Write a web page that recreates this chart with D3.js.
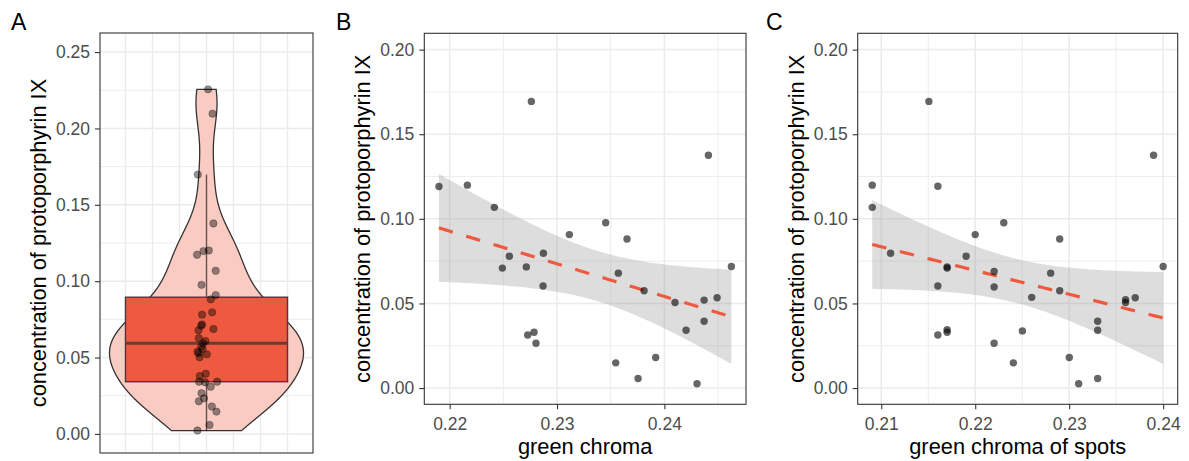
<!DOCTYPE html>
<html>
<head>
<meta charset="utf-8">
<script src="https://cdn.jsdelivr.net/npm/d3@7"></script>
<style>
  body { margin: 0; background: #fff; }
  svg { display: block; }
  text { font-family: "Liberation Sans", Arial, sans-serif; }
</style>
</head>
<body>
<svg id="fig" width="1189" height="461"></svg>
<script>
// Protoporphyrin IX concentration of every sample (panel A) with horizontal jitter offsets
const ppixAll = [0.2256, 0.2097, 0.1698, 0.1378, 0.1173, 0.1197, 0.1201, 0.1068, 0.0976, 0.0909,
  0.0881, 0.0796, 0.0781, 0.0717, 0.0708, 0.0687, 0.0678, 0.0626, 0.0608, 0.0593,
  0.0571, 0.0556, 0.0538, 0.0528, 0.0521, 0.0502, 0.0394, 0.0379, 0.0342, 0.0338,
  0.0342, 0.0309, 0.0266, 0.0233, 0.0214, 0.0179, 0.0146, 0.0059, 0.0022];
const jitterAll = [0.009, 0.034, -0.049, 0.039, -0.053, -0.017, 0.013, 0.052, -0.028, 0.052,
  0.024, 0.032, -0.025, -0.025, -0.030, 0.039, -0.045, -0.043, -0.006, -0.019,
  -0.030, -0.022, -0.051, -0.043, 0.002, -0.039, -0.004, -0.038, -0.042, -0.008,
  0.060, 0.024, -0.028, -0.014, -0.043, 0.030, 0.056, 0.017, -0.051];

// Panel B: green chroma vs protoporphyrin IX
const chromaB = [0.2190, 0.22165, 0.22416, 0.22761, 0.22556, 0.22491, 0.22714, 0.22873, 0.2287, 0.22727,
  0.22786, 0.22804, 0.23115, 0.23453, 0.23652, 0.23571, 0.23811, 0.23547, 0.23755, 0.23919,
  0.24099, 0.24202, 0.2437, 0.2437, 0.24491, 0.2441, 0.24304, 0.24624];
const ppixB = [0.1191, 0.1199, 0.1068, 0.1694, 0.0779, 0.0709, 0.0716, 0.0797, 0.0603, 0.0314,
  0.0330, 0.0265, 0.0907, 0.0977, 0.0881, 0.0679, 0.0575, 0.0149, 0.0057, 0.0181,
  0.0506, 0.0342, 0.0520, 0.0395, 0.0534, 0.1376, 0.0026, 0.0718];

// Panel C: green chroma of spots vs protoporphyrin IX
const chromaC = [0.20904, 0.20904, 0.21099, 0.21507, 0.21602, 0.21602, 0.21602, 0.21701, 0.21701, 0.21701,
  0.21701, 0.21903, 0.2200, 0.22201, 0.22201, 0.22201, 0.22304, 0.22406, 0.22502, 0.22601,
  0.22803, 0.22899, 0.22899, 0.23001, 0.23101, 0.23303, 0.23303, 0.23303, 0.2360, 0.2360,
  0.23703, 0.23898, 0.2400];
const ppixC = [0.1199, 0.1068, 0.0797, 0.1694, 0.1193, 0.0603, 0.0314, 0.0716, 0.0709, 0.0345,
  0.0330, 0.0779, 0.0907, 0.0689, 0.0597, 0.0265, 0.0977, 0.0149, 0.0338, 0.0536,
  0.0679, 0.0881, 0.0575, 0.0181, 0.0026, 0.0395, 0.0342, 0.0057, 0.0522, 0.0506,
  0.0534, 0.1376, 0.0718];

// Axis ticks
const ticksYA = [0, 0.05, 0.10, 0.15, 0.20, 0.25];
const ticksY = [0, 0.05, 0.10, 0.15, 0.20];
const ticksXB = [0.22, 0.23, 0.24];
const ticksXC = [0.21, 0.22, 0.23, 0.24];

const yTitle = "concentration of protoporphyrin IX";

const svg = d3.select("#fig");
const fmt = d3.format(".2f");
const GRID = "#EBEBEB";
const RED = "#EE5A3F";

// ---------- helpers ----------
function expand(ext, f = 0.05) {
  const d = ext[1] - ext[0];
  return [ext[0] - d * f, ext[1] + d * f];
}
function midBreaks(ticks, dom) {
  const step = ticks[1] - ticks[0];
  const out = [];
  for (let v = ticks[0] - step / 2; v <= dom[1] + 1e-9; v += step) {
    if (v >= dom[0] - 1e-9) out.push(+v.toFixed(6));
  }
  return out;
}
function qt975(df) {
  // Cornish-Fisher expansion of the t quantile
  const z = 1.959964, z3 = z ** 3, z5 = z ** 5, z7 = z ** 7;
  return z + (z3 + z) / (4 * df) + (5 * z5 + 16 * z3 + 3 * z) / (96 * df * df)
    + (3 * z7 + 19 * z5 + 17 * z3 - 15 * z) / (384 * df ** 3);
}
function lmBand(xs, ys, n = 80) {
  const N = xs.length, mx = d3.mean(xs), my = d3.mean(ys);
  let sxx = 0, sxy = 0;
  for (let i = 0; i < N; i++) { sxx += (xs[i] - mx) ** 2; sxy += (xs[i] - mx) * (ys[i] - my); }
  const b = sxy / sxx, a = my - b * mx;
  let sse = 0;
  for (let i = 0; i < N; i++) sse += (ys[i] - a - b * xs[i]) ** 2;
  const s = Math.sqrt(sse / (N - 2)), t = qt975(N - 2);
  const [x0, x1] = d3.extent(xs);
  return d3.range(n).map(i => {
    const x = x0 + (x1 - x0) * i / (n - 1);
    const f = a + b * x;
    const se = s * Math.sqrt(1 / N + (x - mx) ** 2 / sxx);
    return { x, f, lo: f - t * se, hi: f + t * se };
  });
}
function panelFrame(g, p, clipId) {
  g.append("clipPath").attr("id", clipId).append("rect")
    .attr("x", p.l).attr("y", p.t).attr("width", p.r - p.l).attr("height", p.b - p.t);
}
function yAxis(g, p, y, ticks) {
  const ax = g.append("g").attr("transform", `translate(${p.l},0)`)
    .call(d3.axisLeft(y).tickValues(ticks).tickSize(5).tickPadding(5).tickFormat(fmt));
  ax.select(".domain").remove();
  ax.selectAll("line").attr("stroke", "#333").attr("stroke-width", 1.1);
  ax.selectAll("text").attr("fill", "#4D4D4D").style("font-size", "17.5px")
    .style("font-family", '"Liberation Sans", Arial, sans-serif');
}
function xAxis(g, p, x, ticks) {
  const ax = g.append("g").attr("transform", `translate(0,${p.b})`)
    .call(d3.axisBottom(x).tickValues(ticks).tickSize(5).tickPadding(8).tickFormat(fmt));
  ax.select(".domain").remove();
  ax.selectAll("line").attr("stroke", "#333").attr("stroke-width", 1.1);
  ax.selectAll("text").attr("fill", "#4D4D4D").style("font-size", "17.5px")
    .style("font-family", '"Liberation Sans", Arial, sans-serif');
}
function titles(g, p, xlab) {
  const cy = (p.t + p.b) / 2;
  g.append("text").attr("transform", `translate(${p.l - 54},${cy}) rotate(-90)`)
    .attr("text-anchor", "middle").style("font-size", "21.8px").attr("fill", "#000").text(yTitle);
  if (xlab) {
    g.append("text").attr("x", (p.l + p.r) / 2).attr("y", p.b + 50)
      .attr("text-anchor", "middle").style("font-size", "21.8px").attr("fill", "#000").text(xlab);
  }
}
function tag(label, x) {
  svg.append("text").attr("x", x).attr("y", 30).style("font-size", "23px").attr("fill", "#000").text(label);
}
function border(g, p) {
  g.append("rect").attr("x", p.l).attr("y", p.t).attr("width", p.r - p.l).attr("height", p.b - p.t)
    .attr("fill", "none").attr("stroke", "#333").attr("stroke-width", 1.1);
}

// ---------- Panel A: violin + box + jittered points ----------
(function () {
  const p = { l: 100, r: 313, t: 33, b: 453 };
  const g = svg.append("g");
  panelFrame(g, p, "clipA");
  const x = d3.scaleLinear().domain([0.4, 1.6]).range([p.l, p.r]);
  const y = d3.scaleLinear().domain([-0.0125, 0.2625]).range([p.b, p.t]);
  const grid = g.append("g").attr("clip-path", "url(#clipA)");
  const yMinor = midBreaks(ticksYA, y.domain());
  grid.selectAll(".ymn").data(yMinor).join("line")
    .attr("x1", p.l).attr("x2", p.r).attr("y1", d => y(d)).attr("y2", d => y(d))
    .attr("stroke", GRID).attr("stroke-width", 0.9);
  grid.selectAll(".ymj").data(ticksYA).join("line")
    .attr("x1", p.l).attr("x2", p.r).attr("y1", d => y(d)).attr("y2", d => y(d))
    .attr("stroke", GRID).attr("stroke-width", 1.5);
  const xGrid = d3.range(-3, 4).map(k => 1 + k * 0.1521);
  grid.selectAll(".xg").data(xGrid).join("line")
    .attr("y1", p.t).attr("y2", p.b).attr("x1", d => x(d)).attr("x2", d => x(d))
    .attr("stroke", GRID).attr("stroke-width", 1.3);

  // kernel density (gaussian, nrd0 bandwidth), trimmed to the data range
  const vals = ppixAll.slice().sort(d3.ascending);
  const n = vals.length;
  const sd = d3.deviation(vals);
  const iqr = d3.quantileSorted(vals, 0.75) - d3.quantileSorted(vals, 0.25);
  const bw = 0.9 * Math.min(sd, iqr / 1.34) * Math.pow(n, -0.2);
  const [lo, hi] = d3.extent(vals);
  const dens = d3.range(512).map(i => {
    const v = lo + (hi - lo) * i / 511;
    const dv = d3.sum(vals, u => Math.exp(-0.5 * ((v - u) / bw) ** 2)) / (n * bw * Math.sqrt(2 * Math.PI));
    return { v, d: dv };
  });
  const dmax = d3.max(dens, d => d.d);
  const halfW = 0.5465;
  const area = d3.area()
    .y(d => y(d.v))
    .x0(d => x(1 - halfW * d.d / dmax))
    .x1(d => x(1 + halfW * d.d / dmax));
  g.append("path").datum(dens).attr("d", area)
    .attr("fill", "#F9CBC3").attr("stroke", "#333").attr("stroke-width", 1.3);

  // box statistics
  const q1 = d3.quantileSorted(vals, 0.25), med = d3.quantileSorted(vals, 0.5), q3 = d3.quantileSorted(vals, 0.75);
  const fenceHi = q3 + 1.5 * (q3 - q1), fenceLo = q1 - 1.5 * (q3 - q1);
  const wHi = d3.max(vals.filter(v => v <= fenceHi)), wLo = d3.min(vals.filter(v => v >= fenceLo));
  const boxHalf = 0.4565;
  const edge = "rgba(0,0,0,0.6)";
  g.append("line").attr("x1", x(1)).attr("x2", x(1)).attr("y1", y(q3)).attr("y2", y(wHi))
    .attr("stroke", edge).attr("stroke-width", 1.4);
  g.append("line").attr("x1", x(1)).attr("x2", x(1)).attr("y1", y(q1)).attr("y2", y(wLo))
    .attr("stroke", edge).attr("stroke-width", 1.4);
  g.append("rect").attr("x", x(1 - boxHalf)).attr("width", x(1 + boxHalf) - x(1 - boxHalf))
    .attr("y", y(q3)).attr("height", y(q1) - y(q3))
    .attr("fill", RED).attr("stroke", "#4a3a37").attr("stroke-width", 1.4);
  g.append("line").attr("x1", x(1 - boxHalf)).attr("x2", x(1 + boxHalf)).attr("y1", y(med)).attr("y2", y(med))
    .attr("stroke", "#6B3A33").attr("stroke-width", 3);

  g.selectAll(".pt").data(ppixAll).join("circle")
    .attr("cx", (d, i) => x(1 + jitterAll[i])).attr("cy", d => y(d)).attr("r", 3.7)
    .attr("fill", "rgba(0,0,0,0.42)").attr("stroke", "rgba(0,0,0,0.35)").attr("stroke-width", 0.8);

  border(g, p);
  yAxis(g, p, y, ticksYA);
  titles(g, p, null);
  tag("A", 11);
})();

// ---------- scatter panels with linear fit ----------
function scatterPanel(p, xs, ys, xticks, xlab, clipId, tagLabel, tagX) {
  const g = svg.append("g");
  panelFrame(g, p, clipId);
  const x = d3.scaleLinear().domain(expand(d3.extent(xs))).range([p.l, p.r]);
  const y = d3.scaleLinear().domain(expand([0, 0.2])).range([p.b + 0.7, p.t - 0.6]);
  const grid = g.append("g").attr("clip-path", `url(#${clipId})`);
  grid.selectAll(".ymn").data(midBreaks(ticksY, y.domain())).join("line")
    .attr("x1", p.l).attr("x2", p.r).attr("y1", d => y(d)).attr("y2", d => y(d))
    .attr("stroke", GRID).attr("stroke-width", 0.9);
  grid.selectAll(".xmn").data(midBreaks(xticks, x.domain())).join("line")
    .attr("y1", p.t).attr("y2", p.b).attr("x1", d => x(d)).attr("x2", d => x(d))
    .attr("stroke", GRID).attr("stroke-width", 0.9);
  grid.selectAll(".ymj").data(ticksY).join("line")
    .attr("x1", p.l).attr("x2", p.r).attr("y1", d => y(d)).attr("y2", d => y(d))
    .attr("stroke", GRID).attr("stroke-width", 1.5);
  grid.selectAll(".xmj").data(xticks).join("line")
    .attr("y1", p.t).attr("y2", p.b).attr("x1", d => x(d)).attr("x2", d => x(d))
    .attr("stroke", GRID).attr("stroke-width", 1.5);

  const fit = lmBand(xs, ys);
  const plot = g.append("g").attr("clip-path", `url(#${clipId})`);
  plot.append("path").datum(fit)
    .attr("d", d3.area().x(d => x(d.x)).y0(d => y(d.lo)).y1(d => y(d.hi)))
    .attr("fill", "#999").attr("fill-opacity", 0.33);
  plot.append("path").datum(fit)
    .attr("d", d3.line().x(d => x(d.x)).y(d => y(d.f)))
    .attr("fill", "none").attr("stroke", RED).attr("stroke-width", 3.2)
    .attr("stroke-dasharray", "14.5,14");
  plot.selectAll(".pt").data(ys).join("circle")
    .attr("cx", (d, i) => x(xs[i])).attr("cy", d => y(d)).attr("r", 3.7)
    .attr("fill", "#000").attr("fill-opacity", 0.6);

  border(g, p);
  yAxis(g, p, y, ticksY);
  xAxis(g, p, x, xticks);
  titles(g, p, xlab);
  tag(tagLabel, tagX);
}

scatterPanel({ l: 424.3, r: 746, t: 33.3, b: 404.3 }, chromaB, ppixB, ticksXB, "green chroma", "clipB", "B", 336);
scatterPanel({ l: 857.7, r: 1177.7, t: 33.3, b: 404.3 }, chromaC, ppixC, ticksXC, "green chroma of spots", "clipC", "C", 766);
</script>
</body>
</html>
